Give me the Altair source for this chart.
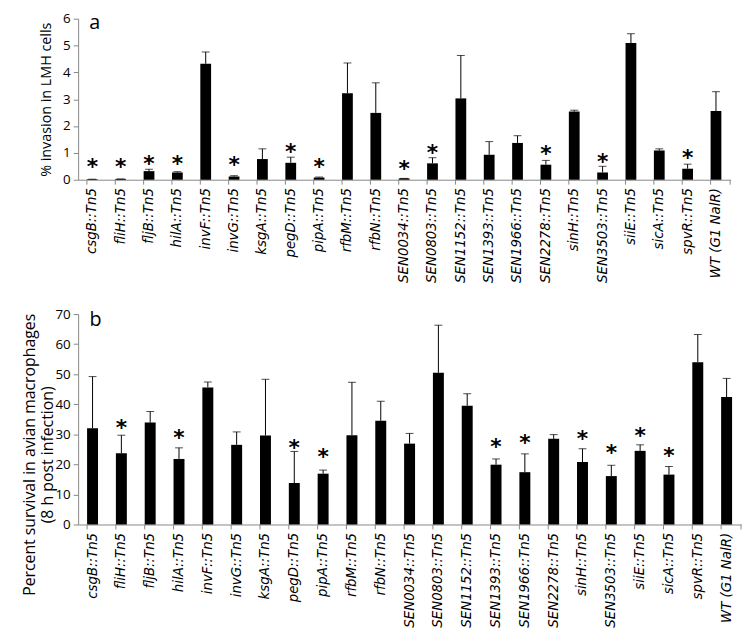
import altair as alt
import pandas as pd

strains = ["csgB::Tn5", "fliH::Tn5", "fljB::Tn5", "hilA::Tn5", "invF::Tn5", "invG::Tn5",
           "ksgA::Tn5", "pegD::Tn5", "pipA::Tn5", "rfbM::Tn5", "rfbN::Tn5", "SEN0034::Tn5",
           "SEN0803::Tn5", "SEN1152::Tn5", "SEN1393::Tn5", "SEN1966::Tn5", "SEN2278::Tn5",
           "sinH::Tn5", "SEN3503::Tn5", "siiE::Tn5", "sicA::Tn5", "spvR::Tn5", "WT (G1 NalR)"]

# panel a: % invasion in LMH cells
invasion = [0.02, 0.03, 0.32, 0.27, 4.32, 0.12, 0.77, 0.63, 0.08, 3.22, 2.49, 0.05,
            0.61, 3.03, 0.93, 1.37, 0.56, 2.54, 0.27, 5.09, 1.09, 0.41, 2.56]
invasion_err = [0.0, 0.0, 0.07, 0.03, 0.44, 0.03, 0.38, 0.21, 0.02, 1.13, 1.12, 0.0,
                0.21, 1.60, 0.49, 0.27, 0.16, 0.05, 0.23, 0.35, 0.06, 0.17, 0.72]
invasion_star = [0.59, 0.59, 0.70, 0.70, None, 0.66, None, 1.13, 0.57, None, None, 0.49,
                 1.09, None, None, None, 1.06, None, 0.78, None, None, 0.92, None]
invasion_ticks = [0, 1, 2, 3, 4, 5, 6]

# panel b: percent survival in avian macrophages
survival = [32.0, 23.7, 33.9, 21.8, 45.6, 26.5, 29.6, 13.8, 16.9, 29.7, 34.5, 26.9,
            50.5, 39.5, 19.9, 17.4, 28.5, 20.8, 16.1, 24.5, 16.6, 54.0, 42.4]
survival_err = [17.2, 6.0, 3.7, 3.7, 1.8, 4.3, 18.7, 10.5, 1.2, 17.6, 6.5, 3.4,
                15.8, 4.0, 1.9, 6.1, 1.4, 4.4, 3.6, 2.0, 2.7, 9.2, 6.2]
survival_star = [None, 33.2, None, 29.6, None, None, None, 26.3, 23.4, None, None, None,
                 None, None, 26.9, 28.0, None, 29.4, 24.7, 30.3, 23.7, None, None]
survival_ticks = [0, 10, 20, 30, 40, 50, 60, 70]

FONT = "Open Sans"
LABEL_FONT = "DejaVu Sans"
GREY = "#868686"


def panel(values, errs, stars, letter, letter_dy, tick_vals, ytitle, width, height,
          title_size, title_pad, title_y=None, anchor_x=None):
    ymax = tick_vals[-1]
    df = pd.DataFrame({"strain": strains, "value": values,
                       "top": [v + e for v, e in zip(values, errs)]})
    sdf = pd.DataFrame({"strain": [s for s, t in zip(strains, stars) if t is not None],
                        "star": [t for t in stars if t is not None]})
    xaxis = alt.Axis(ticks=False, domainColor=GREY, labelAngle=270, labelPadding=8,
                     labelFont=LABEL_FONT, labelFontStyle="italic", labelFontSize=13.5,
                     labelColor="black", labelLimit=300)
    yaxis_kw = dict(values=tick_vals, tickCount=len(tick_vals), grid=False, domainColor=GREY,
                    tickColor=GREY, tickSize=5, labelPadding=3, labelFont=FONT,
                    labelFontSize=13.5, labelColor="black", labelOverlap=False,
                    title=ytitle, titleFont=FONT,
                    titleFontSize=title_size, titleFontWeight="normal", titleColor="black",
                    titlePadding=title_pad, titleLineHeight=19)
    if title_y is not None:
        yaxis_kw["titleY"] = title_y
    yscale = alt.Scale(domain=[0, ymax], nice=False)

    def X(band=None):
        kw = dict(sort=strains, title=None,
                  scale=alt.Scale(paddingInner=0.62, paddingOuter=0.31), axis=xaxis)
        if band is not None:
            kw["bandPosition"] = band
        return alt.X("strain:N", **kw)

    def Y(field):
        return alt.Y(field, scale=yscale, axis=alt.Axis(**yaxis_kw))

    bars = alt.Chart(df).mark_bar(color="black").encode(x=X(), y=Y("value:Q"))
    err = alt.Chart(df).mark_rule(color="black", strokeWidth=1).encode(
        x=X(), y=Y("value:Q"), y2="top:Q")
    caps = alt.Chart(df).mark_tick(color="black", thickness=1, size=8).encode(x=X(), y=Y("top:Q"))
    star = alt.Chart(sdf).mark_text(text="*", font=LABEL_FONT, fontWeight="bold", fontSize=22,
                                    baseline="middle", dy=3, color="black").encode(
        x=X(), y=Y("star:Q"))
    ticks = alt.Chart(pd.DataFrame({"strain": strains})).mark_rule(color=GREY).encode(
        x=X(0), y=alt.value(height), y2=alt.value(height + 5))
    end_tick = alt.Chart(pd.DataFrame({"strain": [strains[-1]]})).mark_rule(color=GREY).encode(
        x=alt.value(width), y=alt.value(height), y2=alt.value(height + 5))
    lab = alt.Chart(pd.DataFrame({"strain": [strains[0]], "y": [ymax], "t": [letter]})).mark_text(
        align="left", baseline="middle", font=FONT, fontSize=20, color="black", dx=-3,
        dy=letter_dy).encode(x=X(), y=Y("y:Q"), text="t:N")
    layers = [bars, err, caps, star, ticks, end_tick, lab]
    if anchor_x is not None:
        anchor = alt.Chart(pd.DataFrame({"strain": [strains[0]]})).mark_rule(opacity=0).encode(
            x=alt.value(anchor_x), y=alt.value(0), y2=alt.value(1))
        layers.append(anchor)
    return alt.layer(*layers).properties(width=width, height=height)


pa = panel(invasion, invasion_err, invasion_star, "a", 4, invasion_ticks,
           "% invasion in LMH cells", 660, 163, 14.5, 9, anchor_x=-75)
pb = panel(survival, survival_err, survival_star, "b", 6, survival_ticks,
           ["Percent survival in avian macrophages", "(8 h post infection)"],
           671, 213, 16, -1, title_y=142)

chart = alt.vconcat(pa, pb, spacing=24).properties(
    padding={"left": -4, "top": 0, "right": 0, "bottom": 0}).configure_view(stroke=None)
chart.save("out.html", embed_options={"renderer": "svg", "actions": False})
